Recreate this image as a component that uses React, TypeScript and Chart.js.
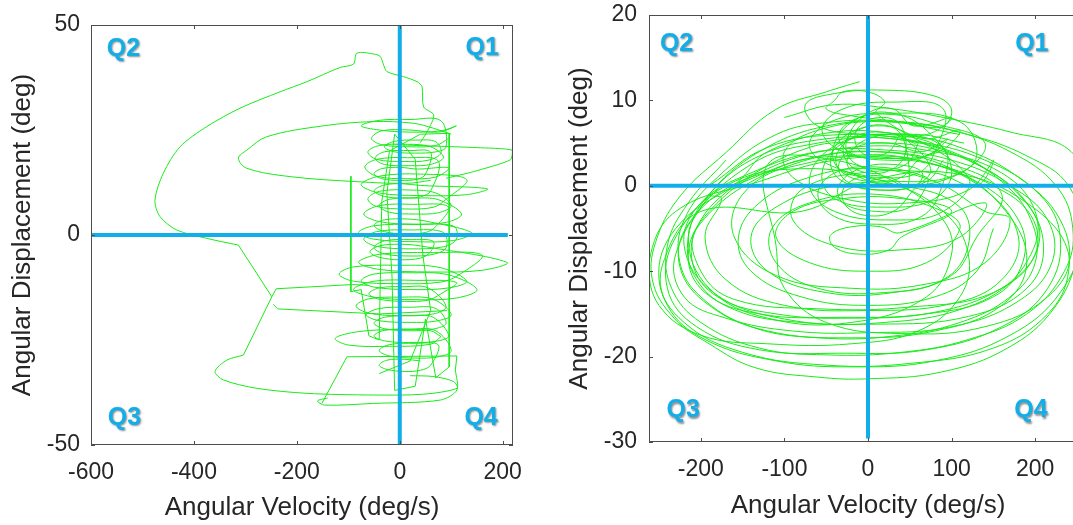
import React, { useEffect, useRef } from 'react';
import { Chart, registerables } from 'chart.js';

Chart.register(...registerables);

type P = [number, number];

// ---------- axes ----------
const leftXRange: P = [-600, 220];
const leftYRange: P = [-50, 50];
const leftXTicks = [-600, -400, -200, 0, 200];
const leftYTicks = [-50, 0, 50];

const rightXRange: P = [-262, 262];
const rightYRange: P = [-30, 20];
const rightXTicks = [-200, -100, 0, 100, 200];
const rightYTicks = [-30, -20, -10, 0, 10, 20];

const xTitle = 'Angular Velocity (deg/s)';
const yTitle = 'Angular Displacement (deg)';

// ---------- quadrant labels (data coordinates) ----------
const leftQuadrants = [
  { text: 'Q2', x: -537, y: 44.3 },
  { text: 'Q1', x: 160, y: 44.5 },
  { text: 'Q3', x: -535, y: -43.5 },
  { text: 'Q4', x: 158, y: -43.5 },
];
const rightQuadrants = [
  { text: 'Q2', x: -229, y: 16.6 },
  { text: 'Q1', x: 196, y: 16.6 },
  { text: 'Q3', x: -221, y: -26.3 },
  { text: 'Q4', x: 195, y: -26.3 },
];

// ---------- zero lines ----------
const leftZeroH: P[] = [[-600, 0], [210, 0]];
const leftZeroV: P[] = [[0, 50], [0, -50]];
const rightZeroH: P[] = [[-262, 0], [262, 0]];
const rightZeroV: P[] = [[0, 20], [0, -29.6]];

// ---------- left panel trajectory ----------
const leftOuterLoop: P[] = [
  [40, 22], [55, 25], [65.8, 28.6], [46.3, 30.5], [43.2, 35.3], [33.5, 36.5], [7.4, 37.7],
  [-24.9, 38.9], [-31.5, 40.5], [-37.9, 42.5], [-51, 43.1], [-83.3, 43.3], [-89.9, 40.7],
  [-115.8, 39.9], [-180.5, 36.5], [-232.5, 34.1], [-310.3, 30.2], [-375.1, 25.8], [-427, 21],
  [-459.5, 14.7], [-475.7, 8.3], [-466, 4.4], [-433.5, 1.2], [-375, -0.8], [-313.6, -2.4],
];
const leftCornerPath: P[] = [[-313.6, -2.4], [-248.6, -14.7], [-303.9, -28.6]];
const leftLowerLoop: P[] = [
  [-303.9, -28.6], [-336.2, -29.8], [-359, -32.5], [-342.8, -34.5], [-277.8, -36.5],
  [-180.5, -37.7], [-51, -38.1], [46.3, -37.9], [111.3, -36.5], [104.7, -34.9], [65.8, -33.7], [20, -33.5],
];
const leftBranchA: P[] = [[-248.6, -14.7], [-240, -12.8], [-92, -11.8], [-60, -12]];
const leftBranchB: P[] = [[-246, -16.5], [-237, -17.6], [-39, -18.8], [92, -18]];
const leftUpperLoop: P[] = [
  [100, 24], [65.8, 25.4], [26.8, 26.6], [-51, 27], [-148.2, 26], [-258.4, 23.4], [-297.3, 20.2],
  [-313.6, 18.3], [-297.3, 15.9], [-213, 13.9], [-83.3, 12.7], [14, 12.3], [60, 13],
];
const leftRightReach: P[] = [
  [-10, 21.5], [60, 21.2], [150, 20.8], [218, 20.2], [215, 17.9], [143.6, 15.1], [90, 13.5],
];
const leftBottomLoopA: P[] = [
  [80, -24.2], [60, -22.8], [0, -22.5], [-80, -23], [-125.5, -24.6], [-100, -26.2], [-20, -26.5], [60, -26], [80, -24.2],
];
const leftBottomPoly: P[] = [[-151.4, -40.1], [-102.7, -29], [111, -28.8], [108, -32.1]];
const leftBottomLoopB: P[] = [
  [108, -32.1], [111, -36.9], [78.8, -39.3], [-51, -40.1], [-146, -40.5], [-160, -39.5], [-140, -38.8],
];
const leftCore: P[] = [
  [95, 23], [70, 21.3], [20, 21], [-35, 21.5], [-55, 23], [-35, 24.8], [20, 25], [75, 24.5],
  [110, 26], [80, 24.8], [20, 24.5], [-40, 25], [-75, 26], [-40, 27.3], [20, 27.5], [80, 27.2],
  [90, 21], [70, 19.8], [30, 19.5], [-10, 19.8], [-30, 21], [-10, 22.3], [30, 22.6], [70, 22.2],
  [80, 19.5], [55, 17.8], [10, 17.5], [-45, 18], [-62, 19.8], [-40, 21.3], [15, 21.6], [60, 21],
  [85, 18.5], [60, 16.8], [20, 16.5], [-30, 16.8], [-48, 18.3], [-30, 19.8], [20, 20.1], [60, 19.7],
  [50, 14.5], [35, 13.3], [0, 13], [-35, 13.4], [-50, 14.6], [-35, 15.8], [0, 16.1], [35, 15.7],
  [95, 16], [70, 13.8], [15, 13.4], [-45, 14], [-68, 16.2], [-45, 18], [15, 18.4], [75, 17.6],
  [60, 10.5], [40, 9.1], [5, 8.8], [-30, 9.2], [-50, 10.5], [-30, 11.9], [5, 12.2], [40, 11.8],
  [170, 11], [130, 9.6], [40, 9.4], [-40, 10], [-75, 12], [-40, 14], [40, 14.5], [130, 13.2],
  [90, 8.5], [65, 6.6], [10, 6.2], [-45, 6.8], [-62, 8.6], [-40, 10.4], [20, 10.7], [70, 10],
  [100, 7], [75, 5.3], [30, 5], [-20, 5.4], [-40, 7], [-20, 8.5], [30, 8.8], [75, 8.4],
  [120, 5], [90, 3], [25, 2.6], [-40, 3.2], [-70, 5], [-40, 7], [25, 7.3], [95, 6.7],
  [70, 2], [50, 0.6], [10, 0.3], [-30, 0.8], [-50, 2.3], [-30, 3.6], [15, 3.8], [55, 3.2],
  [140, 0.5], [105, -1.3], [30, -1.6], [-50, -1], [-80, 0.6], [-50, 2.2], [30, 2.5], [105, 2.1],
  [110, -1], [85, -2.8], [20, -3.3], [-45, -2.7], [-70, -1], [-45, 0.8], [20, 1.2], [85, 0.6],
  [90, -3], [65, -4.6], [20, -5], [-30, -4.5], [-50, -3], [-30, -1.4], [20, -1.1], [65, -1.5],
  [60, -4], [40, -5.5], [0, -5.9], [-40, -5.3], [-58, -4], [-40, -2.6], [0, -2.2], [40, -2.6],
  [208, -6.5], [160, -8.4], [60, -8.8], [-40, -8.2], [-80, -6.5], [-40, -4.6], [60, -4.2], [160, -4.8],
  [115, -9.5], [80, -11.2], [0, -11.6], [-90, -11], [-118, -9.3], [-90, -7.6], [0, -7.2], [80, -7.8],
  [130, -11], [95, -12.6], [20, -13], [-50, -12.4], [-75, -10.9], [-50, -9.3], [20, -9], [95, -9.5],
  [150, -13], [110, -15], [30, -15.4], [-50, -14.8], [-90, -13], [-50, -11], [30, -10.8], [110, -11.3],
  [80, -14], [55, -15.5], [10, -15.8], [-40, -15.3], [-60, -14], [-40, -12.6], [10, -12.3], [55, -12.6],
  [90, -17], [65, -18.8], [0, -19.2], [-60, -18.6], [-85, -16.9], [-60, -15.2], [0, -14.8], [65, -15.3],
  [100, -19], [70, -20.5], [20, -20.8], [-40, -20.4], [-65, -19], [-40, -17.5], [20, -17.2], [70, -17.5],
  [90, -21], [65, -22.4], [20, -22.8], [-30, -22.3], [-50, -21], [-30, -19.6], [20, -19.2], [65, -19.6],
  [95, -24], [70, -25.3], [20, -25.6], [-30, -25.2], [-50, -24], [-30, -22.7], [20, -22.4], [70, -22.8],
  [100, -27.5], [75, -29], [30, -29.3], [-20, -28.8], [-40, -27.5], [-20, -26.1], [30, -25.8], [75, -26.2],
  [60, -31], [40, -32.2], [10, -32.5], [-25, -32], [-40, -31], [-25, -29.8], [10, -29.6], [40, -30],
];
const leftJumps: P[] = [
  [-95, 14], [-95, -13.5], [-75, -13], [-60, -24], [-40, -25], [-35, 8], [-20, 20], [40, 24],
  [96, 24.2], [96, -31.4], [70, -34], [50, -20], [30, -36], [-10, -37], [-15, -10], [-25, 10],
  [-10, 24], [30, 18], [45, -5], [60, -18], [20, -30], [-40, -33],
];

// ---------- right panel trajectory ----------
const rightTail: P[] = [
  [-10, 12.2], [-50, 11], [-111, 8.9], [-171, 3.8], [-223, -1], [-252, -6], [-258, -11], [-232, -15.5],
  [-190, -18.5], [-135, -21.3], [-60, -22.4], [0, -22.6], [88, -21.8], [167, -19], [223, -14.3],
  [252, -8], [262, -2], [243, 4], [170, 6.3], [90, 8], [30, 9], [-40, 9.5], [-100, 8],
];
const rightWide: P[] = [
  [-170, 3], [-215, -2], [-240, -7], [-235, -12], [-200, -16], [-130, -19], [-50, -19.8], [40, -19.5],
  [120, -18], [190, -15], [235, -10], [245, -5], [225, 0], [170, 4], [100, 6.5], [30, 7.5], [-40, 7.5],
  [-110, 6], [-180, 1], [-220, -4], [-225, -9], [-200, -13], [-140, -16.5], [-60, -17.8], [30, -17.6],
  [110, -16], [170, -13], [200, -9], [195, -4], [160, 0.5], [100, 4], [30, 5.5], [-50, 5.5],
  [-130, 3.5], [-190, -1], [-215, -6], [-205, -11], [-160, -14.5], [-80, -16], [20, -16], [110, -14.5],
  [175, -11], [205, -6.5], [190, -2], [140, 2], [70, 4.5], [0, 5], [-70, 4.5],
  [-160, 0], [-230, -5], [-250, -11], [-220, -16], [-150, -19.5], [-50, -21], [50, -20.8], [150, -19],
  [215, -15], [240, -10], [230, -4], [180, 1], [110, 4.5], [40, 6], [-40, 6.3], [-120, 4],
  [-150, 1], [-200, -4], [-210, -9], [-180, -13], [-110, -15], [-20, -15.5], [80, -14.8], [160, -12],
  [200, -8], [195, -3.5], [150, 0], [80, 2.5], [10, 3.5], [-80, 2.5],
  [-180, -1], [-230, -8], [-220, -13], [-170, -15.5], [-90, -17], [0, -17.2], [100, -16.5], [180, -13.5],
  [220, -9], [215, -4], [170, 0], [100, 3], [20, 4.2], [-60, 4], [-140, 1.5],
  [-200, -2], [-220, -7], [-185, -12.5], [-100, -15.6], [10, -16.2], [120, -15.3], [190, -12], [210, -7],
  [185, -1.5], [120, 3], [30, 5.5], [-60, 5], [-140, 2.5],
  [-215, -4.5], [-225, -9.5], [-190, -14], [-120, -17], [-20, -17.8], [80, -17], [160, -14], [190, -9],
  [165, -3], [100, 2], [10, 4], [-80, 3], [-160, 0],
];
const rightWide2: P[] = [
  [-190, -1], [-215, -6], [-190, -12], [-120, -15.5], [-20, -16], [70, -13], [100, -8], [90, -4],
  [40, 0], [-40, 3], [-120, 2.5], [-110, -7], [-100, -12], [-50, -16], [40, -17.3], [140, -16.5],
  [215, -13], [240, -8], [190, -2], [100, 1.5], [0, 0.5], [-80, -3],
  [-200, -3], [-245, -9], [-240, -14], [-195, -18], [-110, -20.5], [-20, -21.2], [80, -20.5], [170, -17.5],
  [230, -12.5], [255, -6], [240, 0], [190, 3.5], [120, 6], [40, 7.5], [-50, 7], [-130, 4], [-190, -1],
  [-175, -1.5], [-195, -6], [-170, -11], [-100, -14], [0, -14.6], [100, -13.8], [160, -11], [180, -6],
  [140, -0.5], [60, 3], [-30, 3.5], [-110, 2],
  [-205, -5], [-200, -10], [-160, -13.3], [-60, -14.4], [50, -14.2], [150, -12.5], [195, -8], [200, -3],
  [160, 1.5], [80, 4], [-20, 4.5], [-120, 2],
  [-190, -3], [-215, -8], [-195, -12.5], [-130, -15], [-30, -15.4], [70, -15], [150, -13], [185, -9],
  [180, -4], [130, 0.5], [50, 3], [-40, 3], [-130, 0.5],
  [-230, -3], [-262, -9], [-250, -14], [-200, -17.5], [-120, -18.5], [-20, -18.5], [60, -17], [110, -13],
  [120, -8], [90, -3], [20, 0.5], [-80, 2], [-170, 0],
  [-230, -6], [-240, -12], [-205, -16.5], [-130, -19.2], [-30, -19.6], [70, -19.2], [160, -16.5], [215, -12],
  [230, -6], [205, -1], [140, 3], [60, 5.2], [-30, 6], [-120, 4.5], [-190, 0],
];
const rightMid: P[] = [
  [150, -5], [130, -10], [80, -13], [0, -14], [-80, -13], [-140, -10], [-155, -6], [-130, -2], [-70, 1],
  [0, 2], [80, 0.5], [140, -3],
  [170, -4], [140, -9], [70, -11.5], [-20, -12], [-110, -10.5], [-160, -6], [-150, -1], [-90, 2.5],
  [0, 4], [100, 2.5], [160, -1],
  [130, -6], [100, -10.5], [30, -12.5], [-50, -12.5], [-120, -10], [-140, -6], [-110, -2.5], [-40, 0],
  [40, 0], [110, -2.5],
  [120, -7], [90, -11], [20, -12.5], [-60, -12], [-110, -9], [-115, -5], [-70, -2], [10, -1], [90, -3],
  [110, -5], [70, -9], [0, -10], [-70, -9], [-110, -6], [-90, -3], [-30, -1.5], [40, -1.5], [100, -3],
  [40, -6], [25, -7.5], [-10, -8], [-40, -7.2], [-45, -5.8], [-20, -4.8], [15, -4.8], [38, -5.5],
  [140, -2], [110, -6], [40, -7.5], [-40, -7], [-90, -4], [-80, -0.5], [-10, 1.5], [80, 1.5], [130, 0],
  [150, 3], [120, -0.5], [50, -2], [-30, -1.5], [-90, 1], [-100, 4], [-60, 6.5], [20, 7.5], [110, 6],
];
const rightCore: P[] = [
  [90, 3], [70, 0.5], [20, -0.5], [-30, 0.5], [-45, 3], [-25, 6], [20, 7], [70, 5.5],
  [110, 6.5], [85, 4], [30, 3.2], [-30, 4], [-55, 6.5], [-30, 9], [30, 9.8], [90, 9],
  [80, 4], [60, 1.5], [10, 1], [-35, 2], [-40, 5], [-10, 8], [30, 8.5], [70, 6.5],
  [100, 2], [80, -1.5], [20, -2.5], [-40, -1.5], [-55, 1.5], [-30, 5], [25, 6], [85, 4.5],
  [60, 3], [40, 1], [5, 0.5], [-30, 1.5], [-38, 3.5], [-15, 5.8], [25, 6.2], [55, 5],
  [60, 5], [45, 2.5], [10, 2], [-20, 3], [-25, 5.5], [0, 8.5], [30, 9], [55, 7],
  [100, 8], [70, 6], [0, 6], [-60, 7], [-75, 9.5], [-40, 10.8], [20, 11.2], [80, 10.5], [100, 8.9],
  [88, 6.9], [40, 7.5], [-20, 8.2], [-50, 9], [-40, 10], [-30, 11], [0, 11], [20, 9.8], [10, 8.5],
  [120, 1], [90, -3], [30, -4], [-40, -3], [-70, 0], [-50, 4], [10, 6], [90, 4.5],
  [85, -1], [60, -3.8], [10, -4.5], [-40, -3.6], [-60, -1], [-40, 1.5], [10, 2.2], [70, 1],
  [70, 0], [50, -2.5], [10, -3], [-30, -2], [-35, 0], [-10, 2], [30, 2.5], [65, 1.5],
  [50, -1], [30, -3], [0, -3.5], [-25, -2.5], [-30, -0.5], [-10, 1], [25, 1], [48, 0],
  [40, 6], [25, 4], [0, 3.5], [-15, 5], [-10, 7], [15, 8], [38, 7.2],
  [45, 4], [30, 2], [0, 1.5], [-25, 2.8], [-28, 5], [-5, 6.8], [25, 7], [42, 5.8],
  [75, 2], [55, 0], [15, -0.5], [-25, 0.5], [-35, 2.5], [-15, 4.5], [25, 5], [65, 4],
  [95, 5.5], [70, 3.5], [25, 3], [-20, 3.8], [-35, 6], [-10, 8], [35, 8.3], [80, 7.3],
  [140, 5], [110, 1.5], [40, 0.5], [-30, 1.8], [-70, 4.5], [-45, 7.5], [30, 8.5], [110, 7.5],
  [130, 3.5], [100, 1], [40, 0], [-10, 1], [-25, 3], [0, 5.5], [60, 6], [115, 5],
];

// ---------- styling ----------
const FONT = "'Liberation Sans', Arial, Helvetica, sans-serif";
const TEXT = '#262626';
const FRAME = '#4d4d4d';
const AXIS_BLUE = '#12aeea';
const GREEN = 'rgb(25,235,25)';

const toPts = (arr: P[]) => arr.map(([x, y]) => ({ x, y }));

type Seg = { data: P[]; tension: number };
type Quad = { text: string; x: number; y: number };
type PanelSpec = {
  xRange: P; yRange: P; xTicks: number[]; yTicks: number[];
  segs: Seg[]; zeroH: P[]; zeroV: P[]; quads: Quad[];
  pad: { top: number; right: number }; yWidth: number; xHeight: number;
  yTickPad: number; yTitlePad: number; xTickPad: number; xTitlePad: number;
};

const leftSpec: PanelSpec = {
  xRange: leftXRange, yRange: leftYRange, xTicks: leftXTicks, yTicks: leftYTicks,
  segs: [
    { data: leftOuterLoop, tension: 0.3 },
    { data: leftCornerPath, tension: 0 },
    { data: leftLowerLoop, tension: 0.3 },
    { data: leftBranchA, tension: 0 },
    { data: leftBranchB, tension: 0 },
    { data: leftUpperLoop, tension: 0.35 },
    { data: leftRightReach, tension: 0.2 },
    { data: leftBottomLoopA, tension: 0.35 },
    { data: leftBottomPoly, tension: 0 },
    { data: leftBottomLoopB, tension: 0.3 },
    { data: leftCore, tension: 0.35 },
    { data: leftJumps, tension: 0 },
  ],
  zeroH: leftZeroH, zeroV: leftZeroV, quads: leftQuadrants,
  pad: { top: 25, right: 17 }, yWidth: 91, xHeight: 80,
  yTickPad: 11, yTitlePad: 7, xTickPad: 14, xTitlePad: 2,
};

const rightSpec: PanelSpec = {
  xRange: rightXRange, yRange: rightYRange, xTicks: rightXTicks, yTicks: rightYTicks,
  segs: [
    { data: rightTail, tension: 0.4 },
    { data: rightWide, tension: 0.4 },
    { data: rightWide2, tension: 0.4 },
    { data: rightMid, tension: 0.4 },
    { data: rightCore, tension: 0.4 },
  ],
  zeroH: rightZeroH, zeroV: rightZeroV, quads: rightQuadrants,
  pad: { top: 15, right: 13 }, yWidth: 109, xHeight: 83,
  yTickPad: 12, yTitlePad: 24, xTickPad: 14, xTitlePad: 4,
};

function buildChart(canvas: HTMLCanvasElement, s: PanelSpec) {
  const framePlugin = {
    id: 'frame',
    afterDatasetsDraw(chart: any) {
      const { ctx, chartArea: a, scales } = chart;
      ctx.save();
      ctx.strokeStyle = FRAME;
      ctx.lineWidth = 1;
      ctx.strokeRect(a.left + 0.5, a.top + 0.5, a.right - a.left - 1, a.bottom - a.top - 1);
      const L = 4;
      ctx.beginPath();
      for (const v of s.xTicks) {
        const px = Math.round(scales.x.getPixelForValue(v)) + 0.5;
        ctx.moveTo(px, a.bottom); ctx.lineTo(px, a.bottom - L);
        ctx.moveTo(px, a.top); ctx.lineTo(px, a.top + L);
      }
      for (const v of s.yTicks) {
        const py = Math.round(scales.y.getPixelForValue(v)) + 0.5;
        ctx.moveTo(a.left, py); ctx.lineTo(a.left + L, py);
        ctx.moveTo(a.right, py); ctx.lineTo(a.right - L, py);
      }
      ctx.stroke();
      ctx.font = `bold 25px ${FONT}`;
      ctx.textAlign = 'center';
      ctx.textBaseline = 'middle';
      ctx.shadowColor = 'rgba(0,0,0,0.45)';
      ctx.shadowOffsetX = 1;
      ctx.shadowOffsetY = 1.5;
      ctx.shadowBlur = 2;
      ctx.fillStyle = AXIS_BLUE;
      for (const q of s.quads) {
        ctx.fillText(q.text, scales.x.getPixelForValue(q.x), scales.y.getPixelForValue(q.y));
      }
      ctx.restore();
    },
  };

  const datasets: any[] = [
    { data: toPts(s.zeroH), borderColor: AXIS_BLUE, borderWidth: 4, showLine: true, pointRadius: 0, order: 0 },
    { data: toPts(s.zeroV), borderColor: AXIS_BLUE, borderWidth: 4, showLine: true, pointRadius: 0, order: 0 },
    ...s.segs.map((g) => ({
      data: toPts(g.data), borderColor: GREEN, borderWidth: 1, showLine: true, pointRadius: 0,
      tension: g.tension, order: 1,
    })),
  ];

  return new Chart(canvas, {
    type: 'scatter',
    data: { datasets },
    plugins: [framePlugin],
    options: {
      animation: false,
      responsive: false,
      devicePixelRatio: 1,
      events: [],
      layout: { padding: { top: s.pad.top, right: s.pad.right, left: 0, bottom: 0 } },
      plugins: { legend: { display: false }, tooltip: { enabled: false }, title: { display: false } },
      scales: {
        x: {
          type: 'linear', min: s.xRange[0], max: s.xRange[1],
          grid: { display: false, drawTicks: false },
          border: { display: false },
          afterBuildTicks: (sc: any) => { sc.ticks = s.xTicks.map((v) => ({ value: v })); },
          afterFit: (sc: any) => {
            sc.height = s.xHeight;
            sc.paddingLeft = 0; sc.paddingRight = 0; sc.paddingTop = 0; sc.paddingBottom = 0;
          },
          ticks: {
            color: TEXT, font: { family: FONT, size: 23 }, padding: s.xTickPad,
            maxRotation: 0, autoSkip: false, callback: (v: any) => String(v),
          },
          title: {
            display: true, text: xTitle, color: TEXT, font: { family: FONT, size: 26 },
            padding: { top: 0, bottom: s.xTitlePad },
          },
        },
        y: {
          type: 'linear', min: s.yRange[0], max: s.yRange[1],
          grid: { display: false, drawTicks: false },
          border: { display: false },
          afterBuildTicks: (sc: any) => { sc.ticks = s.yTicks.map((v) => ({ value: v })); },
          afterFit: (sc: any) => {
            sc.width = s.yWidth;
            sc.paddingLeft = 0; sc.paddingRight = 0; sc.paddingTop = 0; sc.paddingBottom = 0;
          },
          ticks: {
            color: TEXT, font: { family: FONT, size: 23 }, padding: s.yTickPad,
            autoSkip: false, callback: (v: any) => String(v),
          },
          title: {
            display: true, text: yTitle, color: TEXT, font: { family: FONT, size: 26 },
            padding: { top: s.yTitlePad, bottom: 0 },
          },
        },
      },
    } as any,
  });
}

function Panel({ spec, left, width }: { spec: PanelSpec; left: number; width: number }) {
  const ref = useRef<HTMLCanvasElement | null>(null);
  useEffect(() => {
    if (!ref.current) return;
    const c = buildChart(ref.current, spec);
    return () => c.destroy();
  }, [spec]);
  return (
    <canvas
      ref={ref}
      width={width}
      height={525}
      style={{ position: 'absolute', left, top: 0, width, height: 525 }}
    />
  );
}

export default function App() {
  return (
    <div
      style={{
        position: 'fixed', left: 0, top: 0, width: 1073, height: 525,
        overflow: 'hidden', background: '#ffffff',
      }}
    >
      <Panel spec={leftSpec} left={0} width={530} />
      <Panel spec={rightSpec} left={540} width={560} />
    </div>
  );
}
